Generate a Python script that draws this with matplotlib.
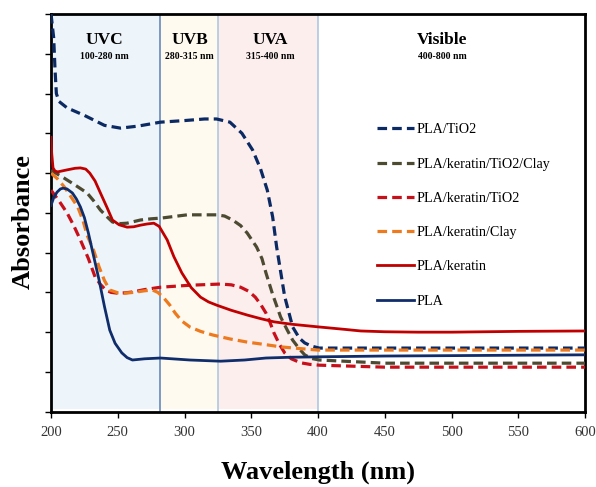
import matplotlib
matplotlib.use("Agg")
from matplotlib import pyplot as plt

plt.rcParams["font.family"] = ["Liberation Serif", "DejaVu Serif"]

# UV-Vis absorbance curves (y in tick units, 0-10)
wl_tio2 = [200, 202, 203, 204, 206, 212, 225, 240, 252, 265, 282, 300, 315, 324, 334,
           343, 351, 357, 362, 366, 369, 375, 381, 386, 390, 395, 401, 450, 500, 550, 600]
ab_tio2 = [10.0, 9.4, 8.6, 8.0, 7.8, 7.64, 7.45, 7.2, 7.13, 7.18, 7.28, 7.32, 7.36, 7.36, 7.28,
           7.0, 6.58, 6.1, 5.57, 4.9, 4.14, 2.9, 2.13, 1.85, 1.73, 1.65, 1.6, 1.6, 1.6, 1.6, 1.6]

wl_ktc = [200, 205, 210, 218, 227, 232, 237, 242, 246, 252, 257, 262, 267, 275, 283, 302,
          324, 330, 336, 342, 347, 354, 358, 361, 366, 372, 377, 381, 386, 390, 395, 401,
          450, 500, 550, 600]
ab_ktc = [6.07, 5.97, 5.87, 5.7, 5.5, 5.3, 5.07, 4.9, 4.77, 4.73, 4.74, 4.78, 4.82, 4.85, 4.87, 4.95,
          4.95, 4.92, 4.82, 4.68, 4.49, 4.14, 3.85, 3.49, 2.95, 2.38, 2.05, 1.8, 1.58, 1.43, 1.34, 1.3,
          1.22, 1.22, 1.22, 1.22]

wl_kt = [200, 206, 212, 217, 222, 228, 233, 237, 241, 245, 250, 256, 261, 270, 282, 304,
         327, 335, 342, 348, 353, 357, 361, 364, 367, 371, 375, 380, 387, 394, 401,
         450, 500, 550, 600]
ab_kt = [5.57, 5.3, 5.0, 4.68, 4.32, 3.85, 3.39, 3.2, 3.06, 3.0, 2.98, 2.99, 3.01, 3.07, 3.13, 3.18,
         3.21, 3.19, 3.13, 3.03, 2.88, 2.7, 2.48, 2.25, 1.98, 1.7, 1.48, 1.33, 1.23, 1.19, 1.17,
         1.12, 1.12, 1.12, 1.12]

wl_kc = [200, 205, 210, 215, 220, 224, 227, 232, 236, 240, 244, 250, 255, 262, 270, 276,
         280, 284, 289, 293, 298, 304, 312, 321, 334, 347, 360, 372, 389, 400,
         450, 500, 550, 600]
ab_kc = [6.0, 5.85, 5.65, 5.4, 5.15, 4.8, 4.44, 4.05, 3.64, 3.3, 3.06, 2.99, 2.98, 3.0, 3.04, 3.06,
         3.0, 2.88, 2.68, 2.48, 2.28, 2.13, 2.02, 1.93, 1.83, 1.75, 1.69, 1.63, 1.58, 1.55,
         1.55, 1.55, 1.55, 1.55]

wl_k = [200, 200.5, 201.5, 203, 205, 212, 218, 222, 226, 229, 233, 237, 242, 246, 251, 257,
        262, 267, 272, 277, 281, 284, 287, 292, 298, 305, 312, 318, 324, 335, 347, 357,
        367, 380, 401, 420, 432, 450, 475, 500, 550, 600]
ab_k = [6.9, 6.5, 6.13, 6.05, 6.03, 6.08, 6.12, 6.13, 6.1, 6.0, 5.8, 5.5, 5.13, 4.82, 4.7, 4.64,
        4.65, 4.69, 4.72, 4.74, 4.66, 4.49, 4.32, 3.9, 3.49, 3.12, 2.88, 2.76, 2.68, 2.55, 2.43, 2.34,
        2.26, 2.2, 2.13, 2.07, 2.03, 2.01, 2.0, 2.0, 2.02, 2.03]

wl_pla = [200, 202, 204.5, 207, 209, 212, 216, 219, 222, 225, 228, 232, 236, 240, 244, 248,
          253, 257, 261, 270, 282, 304, 327, 345, 361, 380, 401, 450, 500, 550, 600]
ab_pla = [5.19, 5.38, 5.52, 5.6, 5.62, 5.6, 5.5, 5.35, 5.15, 4.88, 4.49, 3.9, 3.31, 2.65, 2.05, 1.72,
          1.48, 1.36, 1.3, 1.33, 1.35, 1.3, 1.27, 1.3, 1.35, 1.37, 1.38, 1.4, 1.41, 1.42, 1.43]

series = [
    ("PLA/TiO2", wl_tio2, ab_tio2, "#0b2a63", "--"),
    ("PLA/keratin/TiO2/Clay", wl_ktc, ab_ktc, "#4d4a32", "--"),
    ("PLA/keratin/TiO2", wl_kt, ab_kt, "#c8101a", "--"),
    ("PLA/keratin/Clay", wl_kc, ab_kc, "#ed7a1e", "--"),
    ("PLA/keratin", wl_k, ab_k, "#c00000", "-"),
    ("PLA", wl_pla, ab_pla, "#102d6b", "-"),
]

bands = [(200, 282, "#eef5fa"), (282, 325, "#fffaef"), (325, 400, "#fdeeee")]
band_lines = [(282, "#5b7fb5"), (325, "#a9c3df"), (400, "#a9c3df")]
band_names = [("UVC", "100-280 nm", 240), ("UVB", "280-315 nm", 304),
              ("UVA", "315-400 nm", 364), ("Visible", "400-800 nm", 493)]

fig = plt.figure(figsize=(5.96, 4.87), dpi=100)
ax = fig.add_axes([0.0856, 0.1546, 0.896, 0.8167])

for x0, x1, c in bands:
    ax.axvspan(x0, x1, ymin=0.008, ymax=1, color=c, lw=0, zorder=0)
for x, c in band_lines:
    ax.axvline(x, color=c, lw=1.1, zorder=1)
for name, rng, x in band_names:
    ax.text(x, 9.35, name, ha="center", va="center", fontsize=12.5, fontweight="bold")
    ax.text(x, 8.92, rng, ha="center", va="center", fontsize=7, fontweight="bold")

for label, x, y, c, ls in series:
    if ls == "--":
        ax.plot(x, y, color=c, ls=ls, lw=2.3, dashes=(3.0, 1.6), label=label, zorder=3)
    else:
        ax.plot(x, y, color=c, ls=ls, lw=2.0, label=label, zorder=3)

ax.set_xlim(200, 600)
ax.set_ylim(0, 10)
ax.set_xticks(range(200, 601, 50))
ax.set_yticks(range(0, 11))
ax.set_yticklabels([])
ax.tick_params(axis="x", direction="out", length=4, width=1, labelsize=10.5,
               labelcolor="#333333", pad=6)
ax.tick_params(axis="y", direction="out", length=4, width=1)
for s in ax.spines.values():
    s.set_linewidth(2)
    s.set_color("black")

ax.set_xlabel("Wavelength (nm)", fontsize=19, fontweight="bold", labelpad=16)
ax.set_ylabel("Absorbance", fontsize=19, fontweight="bold")
ax.yaxis.set_label_coords(-0.03, 0.477)

ax.legend(loc="upper left", bbox_to_anchor=(0.587, 0.757), frameon=False, fontsize=10.2,
          handlelength=2.6, handletextpad=0.2, labelspacing=1.5)

fig.savefig("out.png", dpi=100)
